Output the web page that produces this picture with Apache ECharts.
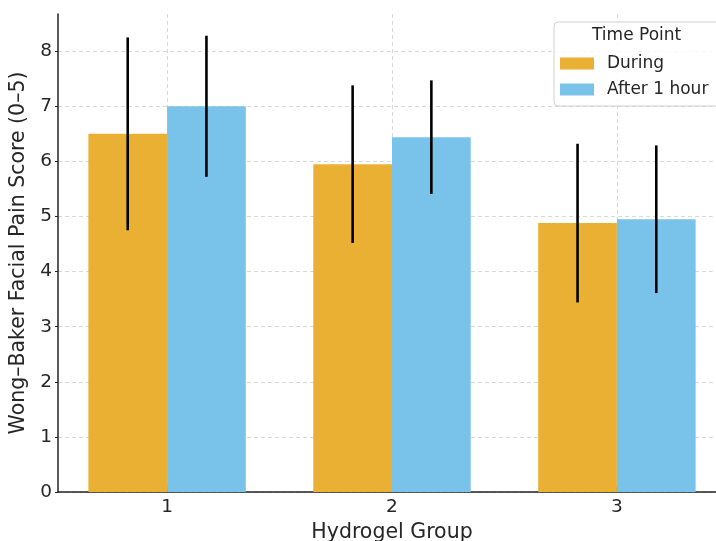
<!DOCTYPE html>
<html>
<head>
<meta charset="utf-8">
<script src="https://cdn.jsdelivr.net/npm/echarts@6/dist/echarts.min.js"></script>
<style>
  html, body { margin: 0; padding: 0; background: #fff; overflow: hidden; }
  #chart { width: 716px; height: 541px; }
</style>
</head>
<body>
<div id="chart"></div>
<script>
// Wong–Baker pain scores per hydrogel group (mean and SD)
const groups = ['1', '2', '3'];
const during = [6.5, 5.95, 4.88];
const duringSd = [1.75, 1.43, 1.44];
const afterHour = [7.0, 6.44, 4.95];
const afterHourSd = [1.28, 1.03, 1.34];
const yTicks = [0, 1, 2, 3, 4, 5, 6, 7, 8];
const seriesNames = ['During', 'After 1 hour'];

const BAR_W = 0.35;           // bar width in group units
const FONT = 'DejaVu Sans';

function barItem(offset) {
  return function (params, api) {
    const x = api.value(0) + offset;
    const y = api.value(1);
    const p0 = api.coord([x - BAR_W / 2, y]);
    const p1 = api.coord([x + BAR_W / 2, 0]);
    return {
      type: 'rect',
      shape: { x: p0[0], y: p0[1], width: p1[0] - p0[0], height: p1[1] - p0[1] },
      style: api.style()
    };
  };
}

function errItem(offset) {
  return function (params, api) {
    const x = api.value(0) + offset;
    const m = api.value(1), s = api.value(2);
    const a = api.coord([x, m - s]);
    const b = api.coord([x, m + s]);
    return {
      type: 'line',
      shape: { x1: a[0], y1: a[1], x2: b[0], y2: b[1] },
      style: { stroke: '#000', lineWidth: 2.6 }
    };
  };
}

const idx = groups.map((g, i) => i);
const chart = echarts.init(document.getElementById('chart'), null, { renderer: 'canvas', width: 716, height: 541 });

chart.setOption({
  animation: false,
  textStyle: { fontFamily: FONT },
  grid: { left: 58, top: 14, width: 668, height: 478, containLabel: false, outerBoundsMode: 'none' },
  xAxis: {
    type: 'value',
    min: -0.485,
    max: 2.485,
    name: 'Hydrogel Group',
    nameLocation: 'middle',
    nameGap: 27,
    nameTextStyle: { fontSize: 20.5, color: '#262626', fontFamily: FONT },
    axisLine: { onZero: false, lineStyle: { color: '#222', width: 1.5 } },
    axisTick: { show: true, inside: true, length: 5, customValues: idx, lineStyle: { color: '#222', width: 1.5 } },
    axisLabel: {
      customValues: idx,
      formatter: v => groups[Math.round(v)],
      fontSize: 18.5, color: '#262626', margin: 6, fontFamily: FONT
    },
    splitLine: { show: true, lineStyle: { color: '#d8d8d8', type: [4, 3], width: 1 } }
  },
  yAxis: {
    type: 'value',
    min: 0,
    max: 8.675,
    name: 'Wong–Baker Facial Pain Score (0–5)',
    nameLocation: 'middle',
    nameGap: 28,
    nameTextStyle: { fontSize: 20.5, color: '#262626', fontFamily: FONT },
    axisLine: { show: true, onZero: false, lineStyle: { color: '#222', width: 1.5 } },
    axisTick: { show: true, length: 3, customValues: yTicks, lineStyle: { color: '#222' } },
    axisLabel: { customValues: yTicks, fontSize: 18.5, color: '#262626', margin: 6, fontFamily: FONT },
    splitLine: { show: true, lineStyle: { color: '#d8d8d8', type: [4, 3], width: 1 } }
  },
  legend: {
    orient: 'vertical',
    left: 554,
    top: 22,
    padding: [33, 40, 8, 6],
    itemWidth: 34,
    itemHeight: 12,
    itemGap: 9,
    icon: 'rect',
    backgroundColor: 'rgba(255,255,255,0.85)',
    borderColor: '#d0d0d0',
    borderWidth: 1,
    borderRadius: 4,
    textStyle: { fontSize: 17, color: '#262626', fontFamily: FONT, padding: [0, 0, 0, 8] },
    data: seriesNames
  },
  graphic: [{
    type: 'text',
    left: 592,
    top: 27,
    z: 100,
    style: { text: 'Time Point', fontSize: 17, fill: '#262626', fontFamily: FONT }
  }],
  series: [
    {
      name: seriesNames[0], type: 'custom', renderItem: barItem(-BAR_W / 2),
      itemStyle: { color: '#EAB033' },
      data: idx.map(i => [i, during[i]]), z: 2
    },
    {
      name: seriesNames[1], type: 'custom', renderItem: barItem(BAR_W / 2),
      itemStyle: { color: '#79C3EB' },
      data: idx.map(i => [i, afterHour[i]]), z: 2
    },
    {
      type: 'custom', renderItem: errItem(-BAR_W / 2), silent: true,
      data: idx.map(i => [i, during[i], duringSd[i]]), z: 3
    },
    {
      type: 'custom', renderItem: errItem(BAR_W / 2), silent: true,
      data: idx.map(i => [i, afterHour[i], afterHourSd[i]]), z: 3
    }
  ]
});
</script>
</body>
</html>
